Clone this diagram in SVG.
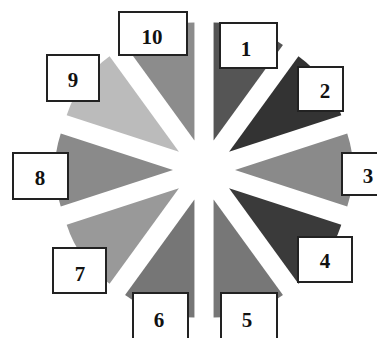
<svg xmlns="http://www.w3.org/2000/svg" width="377" height="338" viewBox="0 0 377 338">
<style>
.box{fill:#fff;stroke:#222;stroke-width:2}
.lbl{font-family:"Liberation Serif","Times New Roman",serif;font-weight:bold;font-size:21px;fill:#111;text-anchor:middle}
</style>
<rect width="377" height="338" fill="#fff"/>
<g id="wedges">
<path id="w1" d="M213.58,140.52 L213.58,22.52 A118,118 0 0 1 282.94,45.06 Z" fill="#555"/>
<path id="w2" d="M229.08,151.78 L298.44,56.32 A118,118 0 0 1 341.31,115.32 Z" fill="#333"/>
<path id="w3" d="M235,170 L347.23,133.54 A118,118 0 0 1 347.23,206.46 Z" fill="#8a8a8a"/>
<path id="w4" d="M229.08,188.22 L341.31,224.68 A118,118 0 0 1 298.44,283.68 Z" fill="#3a3a3a"/>
<path id="w5" d="M213.58,199.48 L282.94,294.94 A118,118 0 0 1 213.58,317.48 Z" fill="#777"/>
<path id="w6" d="M194.42,199.48 L194.42,317.48 A118,118 0 0 1 125.06,294.94 Z" fill="#767676"/>
<path id="w7" d="M178.92,188.22 L109.56,283.68 A118,118 0 0 1 66.69,224.68 Z" fill="#999"/>
<path id="w8" d="M173,170 L60.77,206.46 A118,118 0 0 1 60.77,133.54 Z" fill="#8a8a8a"/>
<path id="w9" d="M178.92,151.78 L66.69,115.32 A118,118 0 0 1 109.56,56.32 Z" fill="#bbb"/>
<path id="w10" d="M194.42,140.52 L125.06,45.06 A118,118 0 0 1 194.42,22.52 Z" fill="#8c8c8c"/>
</g>
<g id="n10"><rect class="box" x="119" y="12" width="68" height="43"/><text class="lbl" x="152" y="44">10</text></g>
<g id="n1"><rect class="box" x="220" y="23" width="57" height="45"/><text class="lbl" x="246" y="56">1</text></g>
<g id="n2"><rect class="box" x="298" y="67" width="45" height="44"/><text class="lbl" x="325" y="98">2</text></g>
<g id="n3"><rect class="box" x="342" y="153" width="40" height="42"/><text class="lbl" x="368" y="183">3</text></g>
<g id="n4"><rect class="box" x="298" y="237" width="54" height="45"/><text class="lbl" x="325" y="268">4</text></g>
<g id="n5"><rect class="box" x="221" y="293" width="56" height="50"/><text class="lbl" x="247" y="327">5</text></g>
<g id="n6"><rect class="box" x="133" y="293" width="55" height="50"/><text class="lbl" x="159" y="327">6</text></g>
<g id="n7"><rect class="box" x="53" y="248" width="53" height="45"/><text class="lbl" x="80" y="281">7</text></g>
<g id="n8"><rect class="box" x="13" y="153" width="55" height="46"/><text class="lbl" x="40" y="185">8</text></g>
<g id="n9"><rect class="box" x="47" y="55" width="52" height="46"/><text class="lbl" x="73" y="87">9</text></g>
</svg>
